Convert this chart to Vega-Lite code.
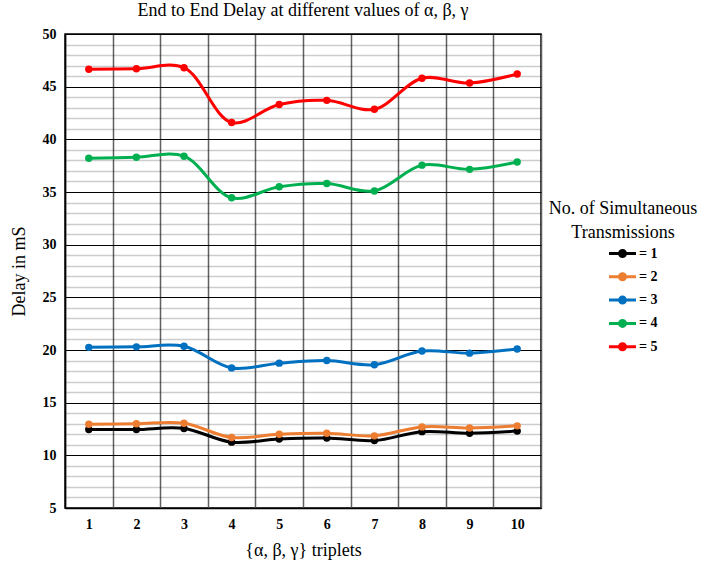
{
  "$schema": "https://vega.github.io/schema/vega-lite/v6.json",
  "autosize": "none",
  "padding": {"left": 65, "top": 34, "right": 177, "bottom": 59},
  "width": 476,
  "height": 474,
  "background": "white",
  "config": {
    "font": "Liberation Serif",
    "view": {"stroke": "black", "strokeWidth": 1.5},
    "axis": {"labelFont": "Liberation Serif", "titleFont": "Liberation Serif"},
    "legend": {"labelFont": "Liberation Serif", "titleFont": "Liberation Serif"},
    "title": {"font": "Liberation Serif"}
  },
  "title": {
    "text": "End to End Delay at different values of α, β, γ",
    "font": "Liberation Serif",
    "fontSize": 18,
    "fontWeight": "normal",
    "color": "black",
    "anchor": "middle",
    "offset": 7
  },
  "data": {
    "values": [
      {"x": 1, "s": "= 1", "v": 12.45}, {"x": 2, "s": "= 1", "v": 12.45}, {"x": 3, "s": "= 1", "v": 12.55}, {"x": 4, "s": "= 1", "v": 11.25}, {"x": 5, "s": "= 1", "v": 11.55},
      {"x": 6, "s": "= 1", "v": 11.65}, {"x": 7, "s": "= 1", "v": 11.4}, {"x": 8, "s": "= 1", "v": 12.25}, {"x": 9, "s": "= 1", "v": 12.1}, {"x": 10, "s": "= 1", "v": 12.3},
      {"x": 1, "s": "= 2", "v": 12.95}, {"x": 2, "s": "= 2", "v": 13.0}, {"x": 3, "s": "= 2", "v": 13.05}, {"x": 4, "s": "= 2", "v": 11.7}, {"x": 5, "s": "= 2", "v": 12.0},
      {"x": 6, "s": "= 2", "v": 12.1}, {"x": 7, "s": "= 2", "v": 11.85}, {"x": 8, "s": "= 2", "v": 12.7}, {"x": 9, "s": "= 2", "v": 12.6}, {"x": 10, "s": "= 2", "v": 12.8},
      {"x": 1, "s": "= 3", "v": 20.25}, {"x": 2, "s": "= 3", "v": 20.3}, {"x": 3, "s": "= 3", "v": 20.35}, {"x": 4, "s": "= 3", "v": 18.3}, {"x": 5, "s": "= 3", "v": 18.75},
      {"x": 6, "s": "= 3", "v": 19.0}, {"x": 7, "s": "= 3", "v": 18.6}, {"x": 8, "s": "= 3", "v": 19.9}, {"x": 9, "s": "= 3", "v": 19.7}, {"x": 10, "s": "= 3", "v": 20.1},
      {"x": 1, "s": "= 4", "v": 38.2}, {"x": 2, "s": "= 4", "v": 38.3}, {"x": 3, "s": "= 4", "v": 38.4}, {"x": 4, "s": "= 4", "v": 34.45}, {"x": 5, "s": "= 4", "v": 35.5},
      {"x": 6, "s": "= 4", "v": 35.8}, {"x": 7, "s": "= 4", "v": 35.1}, {"x": 8, "s": "= 4", "v": 37.55}, {"x": 9, "s": "= 4", "v": 37.15}, {"x": 10, "s": "= 4", "v": 37.85},
      {"x": 1, "s": "= 5", "v": 46.65}, {"x": 2, "s": "= 5", "v": 46.7}, {"x": 3, "s": "= 5", "v": 46.8}, {"x": 4, "s": "= 5", "v": 41.6}, {"x": 5, "s": "= 5", "v": 43.3},
      {"x": 6, "s": "= 5", "v": 43.7}, {"x": 7, "s": "= 5", "v": 42.85}, {"x": 8, "s": "= 5", "v": 45.8}, {"x": 9, "s": "= 5", "v": 45.35}, {"x": 10, "s": "= 5", "v": 46.2}
    ]
  },
  "mark": {
    "type": "line",
    "interpolate": "catmull-rom",
    "strokeWidth": 3,
    "point": {"filled": true, "size": 55}
  },
  "encoding": {
    "x": {
      "field": "x",
      "type": "ordinal",
      "bandPosition": 0.5,
      "scale": {"type": "band", "paddingInner": 0, "paddingOuter": 0},
      "axis": {
        "title": "{α, β, γ} triplets",
        "titleFont": "Liberation Serif",
        "titleFontSize": 18,
        "titleFontWeight": "normal",
        "titleColor": "black",
        "titlePadding": 10,
        "labelAngle": 0,
        "labelFont": "Liberation Serif",
        "labelFontSize": 14,
        "labelFontWeight": "bold",
        "labelColor": "black",
        "labelPadding": 9,
        "ticks": false,
        "tickBand": "extent",
        "grid": true,
        "gridColor": "#606060",
        "gridWidth": 1.5,
        "domainColor": "black",
        "domainWidth": 1.5
      }
    },
    "y": {
      "field": "v",
      "type": "quantitative",
      "scale": {"domain": [5, 50], "nice": false},
      "axis": {
        "title": "Delay in mS",
        "titleFont": "Liberation Serif",
        "titleFontSize": 18,
        "titleFontWeight": "normal",
        "titleColor": "black",
        "titlePadding": 14,
        "values": [5,6,7,8,9,10,11,12,13,14,15,16,17,18,19,20,21,22,23,24,25,26,27,28,29,30,31,32,33,34,35,36,37,38,39,40,41,42,43,44,45,46,47,48,49,50],
        "labelExpr": "datum.value % 5 === 0 ? datum.label : ''",
        "labelFont": "Liberation Serif",
        "labelFontSize": 14,
        "labelFontWeight": "bold",
        "labelColor": "black",
        "labelPadding": 9,
        "ticks": false,
        "grid": true,
        "gridColor": {"condition": {"test": "datum.value % 5 === 0", "value": "black"}, "value": "rgba(0,0,0,0.2)"},
        "gridWidth": {"condition": {"test": "datum.value % 5 === 0", "value": 1.2}, "value": 1.5},
        "domainColor": "black",
        "domainWidth": 1.5
      }
    },
    "color": {
      "field": "s",
      "type": "nominal",
      "scale": {
        "domain": ["= 1", "= 2", "= 3", "= 4", "= 5"],
        "range": ["#000000", "#ED7D31", "#0070C0", "#00B050", "#FF0000"]
      },
      "legend": {
        "title": ["No. of Simultaneous", "Transmissions"],
        "titleFont": "Liberation Serif",
        "titleFontSize": 18,
        "titleFontWeight": "normal",
        "titleColor": "black",
        "titleAlign": "center",
        "titleAnchor": "middle",
        "titleLineHeight": 24,
        "titlePadding": 0,
        "orient": "none",
        "legendX": 484,
        "legendY": 166,
        "labelFont": "Liberation Serif",
        "labelFontSize": 14,
        "labelFontWeight": "bold",
        "labelColor": "black",
        "labelOffset": 5,
        "rowPadding": 2.3,
        "symbolType": "M-1.35,0L1.35,0M-0.3,0A0.3,0.3 0 1,1 0.3,0A0.3,0.3 0 1,1 -0.3,0Z",
        "symbolSize": 400,
        "symbolStrokeWidth": 3,
        "symbolOffset": 22
      }
    }
  }
}
